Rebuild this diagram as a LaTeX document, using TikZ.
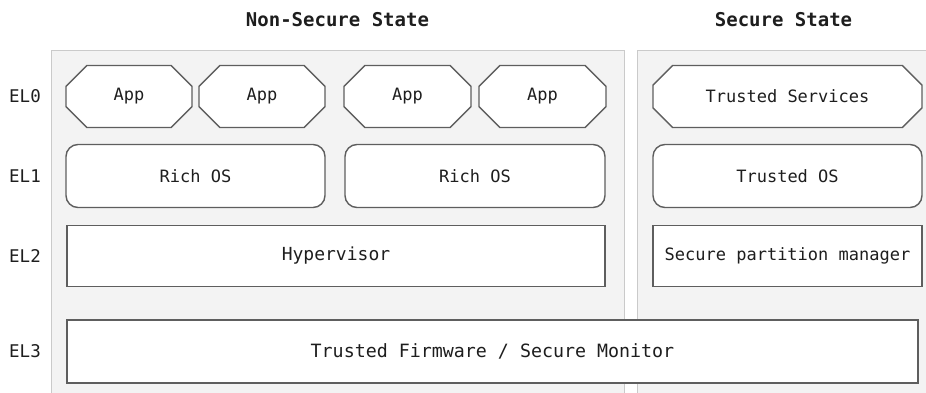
\documentclass[tikz,border=0pt]{standalone}
\usepackage{fontspec}
\setmonofont{DejaVu Sans Mono}
\usetikzlibrary{shapes.misc}
\definecolor{panelfill}{HTML}{F3F3F3}
\definecolor{panelline}{HTML}{CACACA}
\definecolor{boxline}{HTML}{5E5E5E}
\definecolor{txt}{HTML}{1E1E1E}
\tikzset{
  panel/.style={fill=panelfill, draw=panelline, line width=1pt},
  basebox/.style={draw=boxline, fill=white, line width=1.4pt, inner sep=0pt, text=txt,
    font=\ttfamily\fontsize{17}{20}\selectfont},
  appbox/.style={basebox, chamfered rectangle, chamfered rectangle xsep=13pt, chamfered rectangle ysep=13pt,
    minimum width=#1, minimum height=62pt},
  osbox/.style={basebox, rectangle, rounded corners=12pt, minimum width=#1, minimum height=63pt},
  flatbox/.style={basebox, rectangle, minimum width=#1, minimum height=61pt},
  ellabel/.style={text=txt, font=\ttfamily\fontsize{17.5}{20}\selectfont, inner sep=0pt},
  title/.style={text=txt, font=\ttfamily\bfseries\fontsize{19}{22}\selectfont, inner sep=0pt, anchor=base},
}
\begin{document}
\begin{tikzpicture}[x=1pt,y=1pt]
\useasboundingbox (0,0) rectangle (926,392);
\fill[white] (0,0) rectangle (926,392);
% panels (extend past the right and bottom edges)
\draw[panel] (51,-5) -- (51,342) -- (624,342) -- (624,-5);
\draw[panel] (637,-5) -- (637,342) -- (935,342);
\fill[panelfill] (51.5,-5) rectangle (623.5,341.5);
\fill[panelfill] (637.5,-5) rectangle (935,341.5);
% titles
\node[title] (tns) at (337.5,365) {Non-Secure State};
\node[title] (ts) at (783.5,366) {Secure State};
% EL labels
\node[ellabel] (el0) at (25,295.5) {EL0};
\node[ellabel] (el1) at (25,216) {EL1};
\node[ellabel] (el2) at (25,136) {EL2};
\node[ellabel] (el3) at (25,40.5) {EL3};
% EL0
\node[appbox=126pt] (app1) at (129,295.5) {App};
\node[appbox=126pt] (app2) at (262,295.5) {App};
\node[appbox=127pt] (app3) at (407.5,295.5) {App};
\node[appbox=127pt] (app4) at (542.5,295.5) {App};
\node[appbox=269pt] (tsvc) at (787.5,295.5) {Trusted Services};
% EL1
\node[osbox=259pt] (os1) at (195.5,216) {Rich OS};
\node[osbox=260pt] (os2) at (475,216) {Rich OS};
\node[osbox=269pt] (tos) at (787.5,216) {Trusted OS};
% EL2
\node[flatbox=538pt, font=\ttfamily\fontsize{18}{20}\selectfont] (hyp) at (336,136) {Hypervisor};
\node[flatbox=269pt] (spm) at (787.5,136) {Secure partition manager};
% EL3
\node[flatbox=851pt, minimum height=63pt, font=\ttfamily\fontsize{18.3}{20}\selectfont] (tf) at (492.5,40.5) {Trusted Firmware / Secure Monitor};
\end{tikzpicture}
\end{document}
